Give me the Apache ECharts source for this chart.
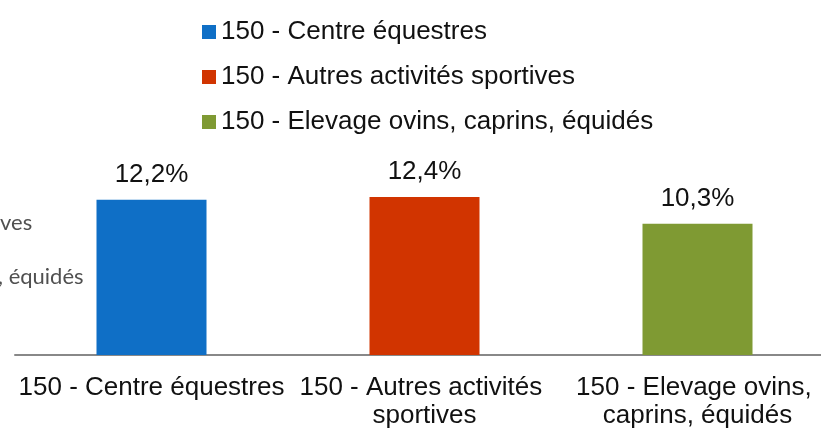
<!DOCTYPE html>
<html>
<head>
<meta charset="utf-8">
<script src="https://cdn.jsdelivr.net/npm/echarts@6/dist/echarts.min.js"></script>
<style>
html,body{margin:0;padding:0;background:#fff;}
#chart{width:821px;height:431px;}
</style>
</head>
<body>
<div id="chart"></div>
<script>
const categories = ['150 - Centre équestres', '150 - Autres activités sportives', '150 - Elevage ovins, caprins, équidés'];
const seriesNames = ['150 - Centre équestres', '150 - Autres activités sportives', '150 - Elevage ovins, caprins, équidés'];
const values = [12.2, 12.4, 10.3];
const colors = ['#0F6FC6', '#D13400', '#7F9A33'];
const ghostTexts = ['ves', ', équidés'];

const FONT = 'Liberation Sans, Arial, sans-serif';

const series = seriesNames.map((name, i) => ({
  name: name,
  type: 'bar',
  barWidth: 110,
  barGap: '-100%',
  itemStyle: { color: colors[i] },
  data: categories.map((c, j) => (j === i ? values[i] : '-')),
  label: {
    show: true,
    position: 'top',
    distance: 12,
    fontFamily: FONT,
    fontSize: 26,
    color: '#111',
    formatter: p => p.value.toFixed(1).replace('.', ',') + '%'
  }
}));

const chart = echarts.init(document.getElementById('chart'));
chart.setOption({
  animation: false,
  backgroundColor: '#fff',
  legend: {
    orient: 'vertical',
    left: 197,
    top: 14,
    itemWidth: 14,
    itemHeight: 14,
    itemGap: 19,
    icon: 'rect',
    data: seriesNames,
    textStyle: { fontFamily: FONT, fontSize: 26, color: '#111', lineHeight: 26 }
  },
  grid: { left: 15, width: 819, top: 164, bottom: 76, containLabel: false, outerBoundsMode: 'none' },
  xAxis: {
    type: 'category',
    data: categories,
    axisLine: { show: true, lineStyle: { color: '#888', width: 2 } },
    axisTick: { show: false },
    axisLabel: {
      interval: 0,
      margin: 19,
      fontFamily: FONT,
      fontSize: 26,
      lineHeight: 28,
      color: '#111',
      width: 292,
      overflow: 'break'
    }
  },
  yAxis: {
    type: 'value',
    min: 0,
    max: 15,
    show: false,
    splitLine: { show: false }
  },
  graphic: [
    { type: 'text', left: 0, top: 212, style: { text: ghostTexts[0], fontFamily: 'Lato, Open Sans, sans-serif', fontSize: 22, fill: '#505050' } },
    { type: 'text', left: -2, top: 266, style: { text: ghostTexts[1], fontFamily: 'Lato, Open Sans, sans-serif', fontSize: 22, fill: '#505050' } }
  ],
  series: series
});
</script>
</body>
</html>
